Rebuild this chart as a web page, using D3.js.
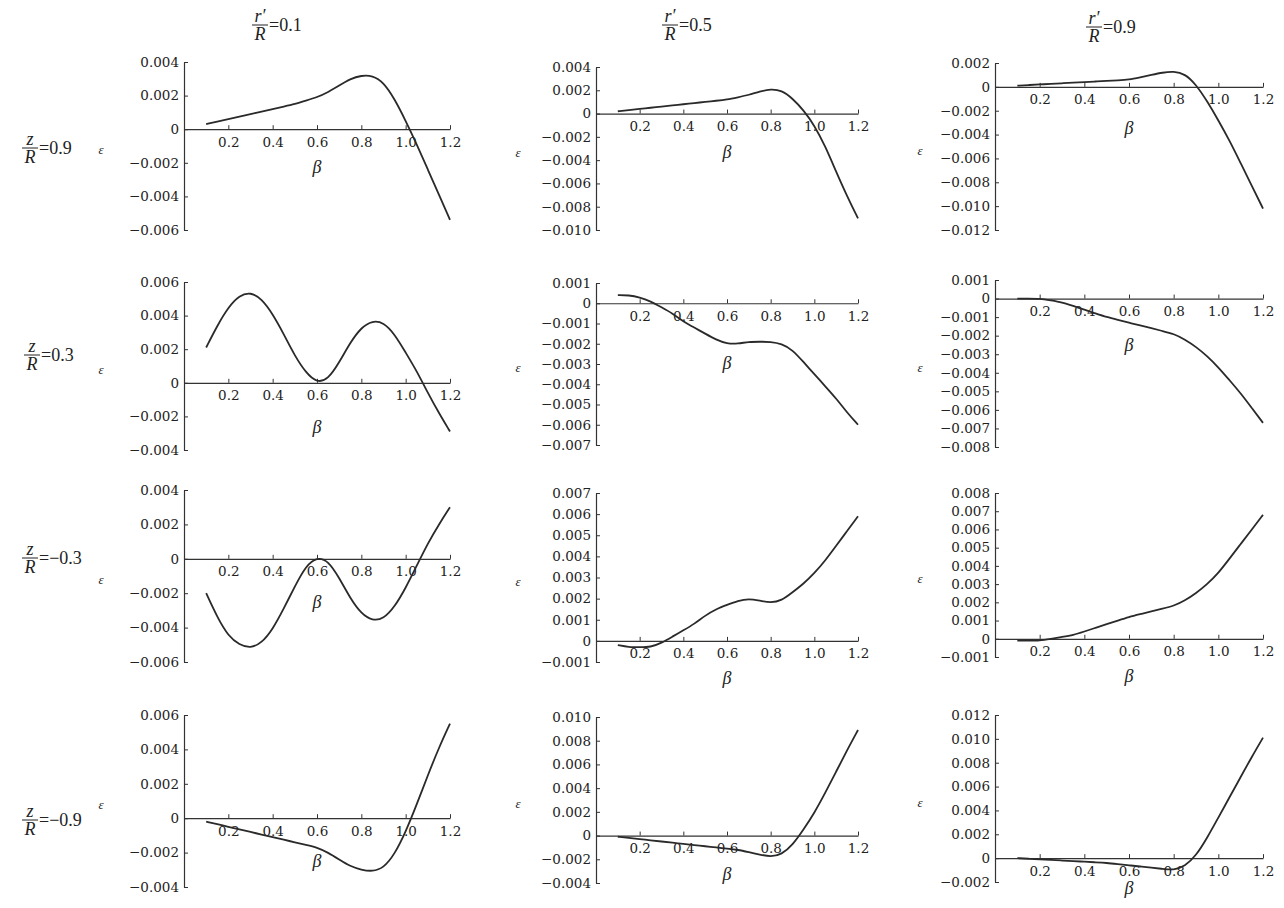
<!DOCTYPE html>
<html>
<head>
<meta charset="utf-8">
<script src="https://cdn.jsdelivr.net/npm/d3@7"></script>
<style>
  body { margin: 0; background: #fff; }
  svg { font-family: "Liberation Serif", "DejaVu Serif", serif; }
  .tick text { font-family: "DejaVu Serif", "Liberation Serif", serif; font-size: 13.5px; fill: #222; }
  .tick line { stroke: #333; }
  .domain { stroke: #333; stroke-width: 1.2; }
</style>
</head>
<body>
<div class="wrapper"></div>
<script>
width = 1284;
height = 908;

/* Data */
beta = [0.10, 0.15, 0.20, 0.25, 0.30, 0.35, 0.40, 0.45, 0.50, 0.55, 0.60, 0.65,
        0.70, 0.75, 0.80, 0.85, 0.90, 0.95, 1.00, 1.05, 1.10, 1.15, 1.20];

colLabels = ["0.1", "0.5", "0.9"];          // r'/R
rowLabels = ["0.9", "0.3", "\u22120.3", "\u22120.9"];   // z/R
xTicks = [0.2, 0.4, 0.6, 0.8, 1.0, 1.2];

// z/R = 0.9
epsZ09R01 = [0.0003, 0.00045, 0.0006, 0.00075, 0.0009, 0.00105, 0.0012, 0.00135, 0.0015, 0.0017, 0.0019, 0.0022,
             0.0026, 0.0030, 0.0032, 0.0032, 0.0028, 0.0018, 0.0005, -0.0009, -0.0024, -0.0039, -0.0054];
epsZ09R05 = [0.0002, 0.0003, 0.0004, 0.0005, 0.0006, 0.0007, 0.0008, 0.0009, 0.0010, 0.0011, 0.0012, 0.0014,
             0.0016, 0.0019, 0.0021, 0.0020, 0.0013, 0.0003, -0.0010, -0.0028, -0.0050, -0.0071, -0.0090];
epsZ09R09 = [0.0001, 0.00015, 0.0002, 0.00025, 0.0003, 0.00035, 0.0004, 0.00045, 0.0005, 0.00055, 0.0006, 0.0008,
             0.0010, 0.0012, 0.0013, 0.0011, 0.0002, -0.0012, -0.0028, -0.0045, -0.0064, -0.0083, -0.0102];
// z/R = 0.3
epsZ03R01 = [0.0021, 0.0034, 0.0045, 0.0052, 0.0054, 0.0050, 0.0041, 0.0029, 0.0016, 0.0006, 0.0000, 0.0002,
             0.0012, 0.0024, 0.0033, 0.0037, 0.0036, 0.0029, 0.0018, 0.0007, -0.0006, -0.0018, -0.0029];
epsZ03R05 = [0.0004, 0.0004, 0.0003, 0.0001, -0.0002, -0.0005, -0.0009, -0.0012, -0.0015, -0.0018, -0.0020, -0.0020,
             -0.0019, -0.0019, -0.0019, -0.0020, -0.0023, -0.0029, -0.0035, -0.0041, -0.0047, -0.0054, -0.0060];
epsZ03R09 = [0, 0, 0, -0.0001, -0.0002, -0.0004, -0.0006, -0.0008, -0.0010, -0.00115, -0.0013, -0.00145,
             -0.0016, -0.00175, -0.0019, -0.0022, -0.0026, -0.0031, -0.0037, -0.0044, -0.0051, -0.0059, -0.0067];
// z/R = -0.3
epsZm03R01 = [-0.0020, -0.0034, -0.0045, -0.0050, -0.0052, -0.0049, -0.0041, -0.0029, -0.0016, -0.0004, 0.0001, -0.0001,
              -0.0011, -0.0023, -0.0032, -0.0036, -0.0035, -0.0028, -0.0017, -0.0004, 0.0009, 0.0020, 0.0030];
epsZm03R05 = [-0.0002, -0.0003, -0.0003, -0.0003, -0.0001, 0.0002, 0.0005, 0.0008, 0.0012, 0.0015, 0.0017, 0.0019,
              0.0020, 0.0019, 0.0018, 0.0019, 0.0023, 0.0027, 0.0032, 0.0038, 0.0045, 0.0052, 0.0059];
epsZm03R09 = [-0.0001, -0.0001, -0.0001, 0.0000, 0.0001, 0.0002, 0.0004, 0.0006, 0.0008, 0.0010, 0.0012, 0.00135,
              0.0015, 0.00165, 0.0018, 0.0021, 0.0025, 0.0030, 0.0036, 0.0044, 0.0052, 0.0060, 0.0068];
// z/R = -0.9
epsZm09R01 = [-0.0002, -0.00035, -0.0005, -0.00065, -0.0008, -0.00095, -0.0011, -0.00125, -0.0014, -0.00155, -0.0017, -0.0020,
              -0.0024, -0.0028, -0.0030, -0.0031, -0.0029, -0.0021, -0.0008, 0.0008, 0.0025, 0.0041, 0.0055];
epsZm09R05 = [-0.0001, -0.0002, -0.0003, -0.0004, -0.0005, -0.0006, -0.0007, -0.0008, -0.0009, -0.0010, -0.0011, -0.0012,
              -0.0014, -0.0016, -0.0018, -0.0016, -0.0008, 0.0005, 0.0019, 0.0036, 0.0054, 0.0072, 0.0089];
epsZm09R09 = [0, -0.00005, -0.0001, -0.00015, -0.0002, -0.00025, -0.0003, -0.00035, -0.0004, -0.0005, -0.0006, -0.0007,
              -0.0008, -0.0009, -0.0010, -0.0007, 0.0002, 0.0017, 0.0034, 0.0051, 0.0068, 0.0085, 0.0101];

series = [
  [epsZ09R01, epsZ09R05, epsZ09R09],
  [epsZ03R01, epsZ03R05, epsZ03R09],
  [epsZm03R01, epsZm03R05, epsZm03R09],
  [epsZm09R01, epsZm09R05, epsZm09R09]
];

// y axis ranges [min, max, step] per panel
yRanges = [
  [[-0.006, 0.004, 0.002], [-0.010, 0.004, 0.002], [-0.012, 0.002, 0.002]],
  [[-0.004, 0.006, 0.002], [-0.007, 0.001, 0.001], [-0.008, 0.001, 0.001]],
  [[-0.006, 0.004, 0.002], [-0.001, 0.007, 0.001], [-0.001, 0.008, 0.001]],
  [[-0.004, 0.006, 0.002], [-0.004, 0.010, 0.002], [-0.002, 0.012, 0.002]]
];

/* Layout (pixels) */
colX = [184, 596, 995];
colW = [266, 262, 268];
epsDx = [-83, -78, -75];
panelTop = [[62, 67, 63], [282, 283, 280], [490, 493, 493], [715, 717, 715]];
panelBottom = [[230, 230, 230], [450, 445, 447], [662, 662, 657], [887, 883, 882]];
betaDy = [[38, 38, 41], [44, 60, 46], [43, 37, 37], [43, 38, 30]];
headerPos = [[252, 25], [662, 25], [1086, 27]];
rowPos = [[22, 148], [24, 355], [22, 558], [22, 820]];

svg = d3.select(".wrapper")
  .append("svg")
  .attr("width", width)
  .attr("height", height);

yFmt = function (v) {
  if (Math.abs(v) < 1e-9) return "0";
  return d3.format(".3f")(v).replace("-", "\u2212");
};

function fracLabel(x, yBar, num, den, rest) {
  var g = svg.append("g").style("font-size", "18px").attr("fill", "#222");
  var w = 16;
  g.append("text").attr("x", x + w / 2).attr("y", yBar - 3)
    .attr("text-anchor", "middle").style("font-style", "italic").text(num);
  g.append("line").attr("x1", x).attr("x2", x + w)
    .attr("y1", yBar).attr("y2", yBar).attr("stroke", "#222").attr("stroke-width", 1);
  g.append("text").attr("x", x + w / 2).attr("y", yBar + 15)
    .attr("text-anchor", "middle").style("font-style", "italic").text(den);
  g.append("text").attr("x", x + w + 1).attr("y", yBar + 6).text("=" + rest);
}

colLabels.forEach(function (c, j) { fracLabel(headerPos[j][0], headerPos[j][1], "r\u2032", "R", c); });
rowLabels.forEach(function (r, i) { fracLabel(rowPos[i][0], rowPos[i][1], "z", "R", r); });

function drawPanel(i, j) {
  var yr = yRanges[i][j];
  var x = d3.scaleLinear().domain([0, 1.2]).range([colX[j], colX[j] + colW[j]]);
  var y = d3.scaleLinear().domain([yr[0], yr[1]]).range([panelBottom[i][j], panelTop[i][j]]);
  var yTicks = d3.range(Math.round((yr[1] - yr[0]) / yr[2]) + 1).map(function (k) { return yr[0] + k * yr[2]; });

  var g = svg.append("g").classed("panel", true);

  // y axis
  g.append("g")
    .attr("transform", "translate(" + x(0) + ",0)")
    .call(d3.axisLeft(y).tickValues(yTicks).tickFormat(yFmt)
      .tickSize(-4).tickSizeOuter(0).tickPadding(5));

  // x axis through zero
  g.append("g")
    .attr("transform", "translate(0," + y(0) + ")")
    .call(d3.axisBottom(x).tickValues(xTicks).tickFormat(d3.format(".1f"))
      .tickSize(-4).tickSizeOuter(0).tickPadding(8));

  // curve
  var pts = beta.map(function (b, k) { return [b, series[i][j][k]]; });
  g.append("path")
    .datum(pts)
    .attr("fill", "none")
    .attr("stroke", "#2a2a2a")
    .attr("stroke-width", 1.8)
    .attr("d", d3.line()
      .x(function (d) { return x(d[0]); })
      .y(function (d) { return y(d[1]); })
      .curve(d3.curveBasis));

  // axis titles
  g.append("text")
    .attr("x", x(0.6)).attr("y", y(0) + betaDy[i][j] + 6)
    .attr("text-anchor", "middle")
    .style("font-size", "18px").style("font-style", "italic").attr("fill", "#222")
    .text("\u03b2");
  g.append("text")
    .attr("x", x(0) + epsDx[j]).attr("y", (panelTop[i][j] + panelBottom[i][j]) / 2 + 8)
    .attr("text-anchor", "middle")
    .style("font-size", "13px").style("font-style", "italic").attr("fill", "#222")
    .text("\u03b5");
}

for (var i = 0; i < 4; i++) {
  for (var j = 0; j < 3; j++) drawPanel(i, j);
}
</script>
</body>
</html>
